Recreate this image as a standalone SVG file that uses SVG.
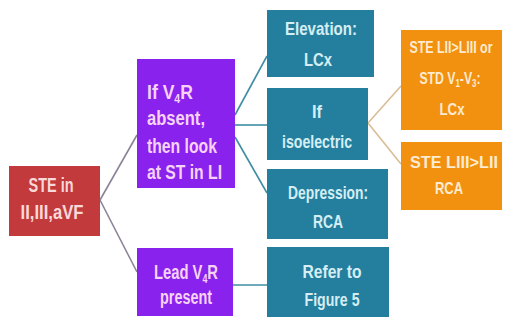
<svg xmlns="http://www.w3.org/2000/svg" width="506" height="321" viewBox="0 0 506 321">
<style>
text{font-family:"Liberation Sans",Arial,sans-serif;font-weight:bold;text-anchor:middle}
.red{fill:#c23a3c}
.pur{fill:#8a22ee}
.teal{fill:#247f9f}
.org{fill:#f2910f}
.tr{fill:#f8d8d8;font-size:21px}
.tp{fill:#f6d2f6;font-size:20px}
.tt{fill:#d4eef3;font-size:19px}
.to{fill:#fdebd2;font-size:17px}
.c1{stroke:#8c8298;stroke-width:1.6;fill:none}
.c2{stroke:#3f8ea3;stroke-width:1.6;fill:none}
.c3{stroke:#d9bd96;stroke-width:1.6;fill:none}
</style>
<rect width="506" height="321" fill="#ffffff"/>
<g id="connectors">
<line class="c1" x1="100" y1="200" x2="137" y2="135"/>
<line class="c1" x1="100" y1="200" x2="137" y2="272"/>
<line class="c2" x1="235" y1="115" x2="267" y2="56"/>
<line class="c2" x1="235" y1="125" x2="267" y2="125"/>
<line class="c2" x1="235" y1="137" x2="267" y2="193"/>
<line class="c2" x1="233" y1="285" x2="267" y2="285"/>
<polyline class="c3" points="401,86 368,123 401,164"/>
</g>
<g id="n_ste">
<rect class="red" x="9" y="166" width="91" height="70"/>
<text class="tr" x="51" y="192" textLength="45" lengthAdjust="spacingAndGlyphs">STE in</text>
<text class="tr" x="52" y="219" textLength="63" lengthAdjust="spacingAndGlyphs">II,III,aVF</text>
</g>
<g id="n_absent">
<rect class="pur" x="137" y="59" width="98" height="129"/>
<text class="tp" style="text-anchor:start" transform="translate(147 99) scale(0.88 1)">If V<tspan font-size="12" dy="4">4</tspan><tspan dy="-4">R</tspan></text>
<text class="tp" x="147" y="125" style="text-anchor:start" textLength="58" lengthAdjust="spacingAndGlyphs">absent,</text>
<text class="tp" x="147" y="153" style="text-anchor:start" textLength="70" lengthAdjust="spacingAndGlyphs">then look</text>
<text class="tp" x="147" y="179" style="text-anchor:start" textLength="75" lengthAdjust="spacingAndGlyphs">at ST in LI</text>
</g>
<g id="n_present">
<rect class="pur" x="137" y="248" width="96" height="68"/>
<text class="tp" transform="translate(186 279) scale(0.74 1)">Lead V<tspan font-size="12" dy="4">4</tspan><tspan dy="-4">R</tspan></text>
<text class="tp" x="186" y="304" textLength="52" lengthAdjust="spacingAndGlyphs">present</text>
</g>
<g id="n_elev">
<rect class="teal" x="267" y="10" width="107" height="67"/>
<text class="tt" x="321" y="35" textLength="72" lengthAdjust="spacingAndGlyphs">Elevation:</text>
<text class="tt" x="318" y="66" textLength="28" lengthAdjust="spacingAndGlyphs">LCx</text>
</g>
<g id="n_iso">
<rect class="teal" x="267" y="88" width="101" height="72"/>
<text class="tt" x="317" y="118" textLength="10" lengthAdjust="spacingAndGlyphs">If</text>
<text class="tt" x="317" y="148" textLength="70" lengthAdjust="spacingAndGlyphs">isoelectric</text>
</g>
<g id="n_dep">
<rect class="teal" x="267" y="169" width="121" height="70"/>
<text class="tt" x="328" y="199" textLength="80" lengthAdjust="spacingAndGlyphs">Depression:</text>
<text class="tt" x="328" y="228" textLength="30" lengthAdjust="spacingAndGlyphs">RCA</text>
</g>
<g id="n_refer">
<rect class="teal" x="267" y="247" width="122" height="70"/>
<text class="tt" x="332" y="278" textLength="59" lengthAdjust="spacingAndGlyphs">Refer to</text>
<text class="tt" x="332" y="306" textLength="55" lengthAdjust="spacingAndGlyphs">Figure 5</text>
</g>
<g id="n_lcx">
<rect class="org" x="401" y="30" width="101" height="100"/>
<text class="to" transform="translate(451 53) scale(0.73 1)">STE LII&gt;LIII or</text>
<text class="to" transform="translate(450 84) scale(0.72 1)">STD V<tspan font-size="11" dy="3">1</tspan><tspan dy="-3">-V</tspan><tspan font-size="11" dy="3">3</tspan><tspan dy="-3">:</tspan></text>
<text class="to" x="452" y="115" textLength="25" lengthAdjust="spacingAndGlyphs">LCx</text>
</g>
<g id="n_rca">
<rect class="org" x="401" y="142" width="101" height="68"/>
<text class="to" x="454" y="168" textLength="88" lengthAdjust="spacingAndGlyphs">STE  LIII&gt;LII</text>
<text class="to" x="449" y="194" textLength="28" lengthAdjust="spacingAndGlyphs">RCA</text>
</g>
</svg>
